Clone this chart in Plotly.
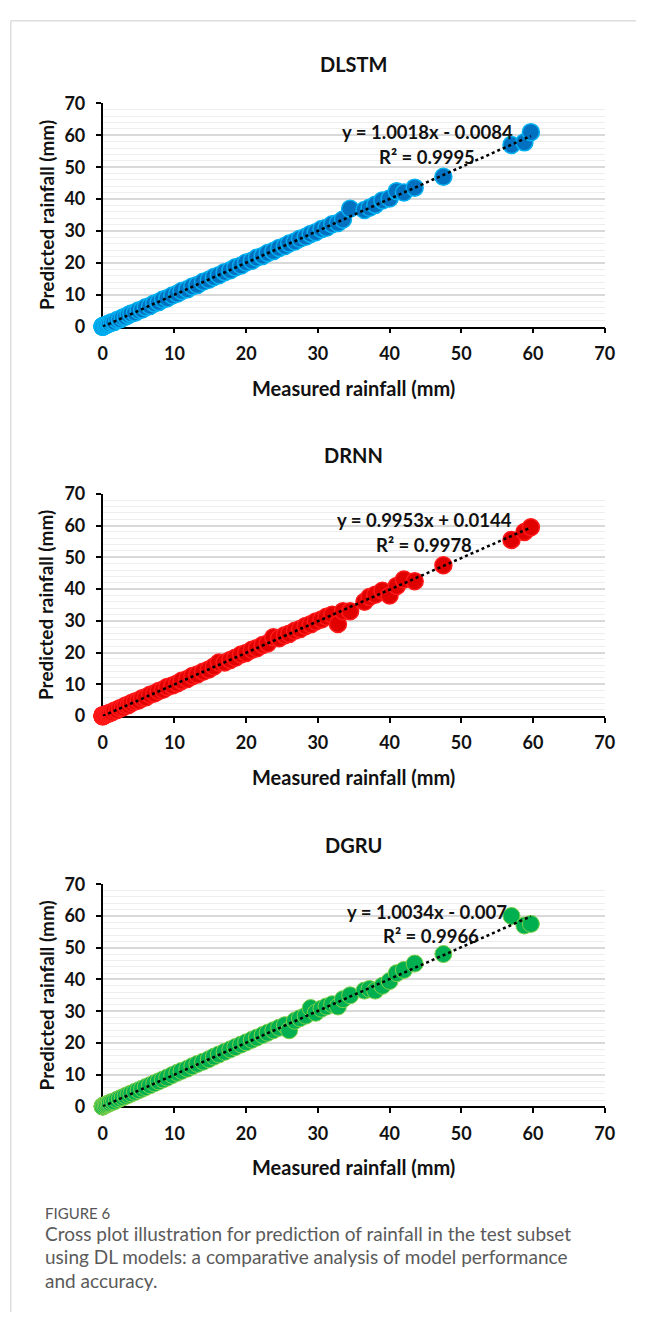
import plotly.graph_objects as go

# ---------------- data ----------------
models = ["DLSTM", "DRNN", "DGRU"]
measured = [
    0, 0, 0, 0, 0, 0, 0, 0.2, 0.4, 0.6,
    0.8, 1.0, 1.3, 1.6, 2.0, 2.4, 2.8, 3.2, 3.6, 4.0,
    4.5, 5.0, 5.5, 6.0, 6.6, 7.2, 7.8, 8.4, 9.0, 9.7,
    10.4, 11.0, 11.8, 12.5, 13.2, 14.0, 14.8, 15.5, 16.2, 17.0,
    17.8, 18.5, 19.3, 20.0, 20.8, 21.5, 22.3, 23.0, 23.8, 24.6,
    25.4, 26.0, 26.8, 27.5, 28.3, 29.0, 29.7, 30.5, 31.2, 32.0,
    32.8, 33.5, 34.5, 36.5, 37.2, 38.0, 39.0, 40.0, 41.0, 42.0,
    43.5, 47.5, 57.0, 58.8, 59.7,
]
pred_dlstm = [
    0, 0.1, 0, 0.2, 0, 0.1, 0, 0.3, 0.5, 0.6,
    0.9, 1.1, 1.4, 1.5, 2.1, 2.3, 2.9, 3.1, 3.7, 4.1,
    4.4, 5.1, 5.4, 6.1, 6.5, 7.3, 7.7, 8.5, 8.9, 9.8,
    10.3, 11.2, 11.7, 12.6, 13.1, 14.1, 14.7, 15.6, 16.1, 17.1,
    17.7, 18.6, 19.2, 20.1, 20.7, 21.6, 22.2, 23.1, 23.7, 24.7,
    25.3, 26.1, 26.7, 27.6, 28.2, 29.1, 29.6, 30.6, 31.0, 32.1,
    32.5, 33.6, 37.0, 36.6, 37.3, 38.2, 39.6, 40.2, 42.5, 42.1,
    43.6, 47.0, 57.0, 57.8, 61.0,
]
pred_drnn = [
    0, 0.2, 0, 0.1, 0, 0.3, 0, 0.2, 0.4, 0.7,
    0.8, 1.0, 1.2, 1.7, 1.9, 2.5, 2.7, 3.3, 3.5, 4.1,
    4.6, 4.9, 5.6, 5.9, 6.7, 7.1, 7.9, 8.3, 9.2, 9.6,
    10.3, 11.1, 11.7, 12.6, 13.1, 14.0, 14.7, 15.6, 16.9, 16.9,
    17.7, 18.4, 19.4, 19.9, 20.9, 21.4, 22.4, 22.9, 24.8, 24.5,
    25.5, 25.9, 26.9, 27.4, 28.4, 28.9, 29.8, 30.4, 31.3, 31.9,
    29.0, 33.0, 33.0, 36.0, 37.5, 38.2, 39.5, 38.0, 41.0, 43.0,
    42.5, 47.5, 55.5, 58.0, 59.5,
]
pred_dgru = [
    0, 0.1, 0, 0.2, 0, 0.1, 0, 0.3, 0.5, 0.7,
    0.9, 1.1, 1.4, 1.6, 2.1, 2.5, 2.9, 3.3, 3.7, 4.1,
    4.6, 5.1, 5.6, 6.1, 6.7, 7.3, 7.9, 8.5, 9.1, 9.9,
    10.6, 11.2, 11.9, 12.7, 13.4, 14.1, 14.9, 15.7, 16.4, 17.2,
    18.0, 18.7, 19.5, 20.2, 21.0, 21.7, 22.5, 23.2, 24.0, 24.8,
    25.6, 24.0, 27.0, 27.8, 28.6, 31.0, 29.5, 30.8, 31.5, 32.2,
    31.5, 33.8, 35.0, 36.5, 37.0, 36.5, 38.0, 39.5, 42.0, 43.0,
    45.0, 48.0, 60.0, 57.0, 57.5,
]
predictions = [pred_dlstm, pred_drnn, pred_dgru]
slopes = [1.0018, 0.9953, 1.0034]
intercepts = [-0.0084, 0.0144, -0.007]
eq_labels = ["y = 1.0018x - 0.0084", "y = 0.9953x + 0.0144", "y = 1.0034x - 0.007"]
r2_labels = ["R² = 0.9995", "R² = 0.9978", "R² = 0.9966"]
tick_vals = [0, 10, 20, 30, 40, 50, 60, 70]
x_title = "Measured rainfall (mm)"
y_title = "Predicted rainfall (mm)"
caption_head = "FIGURE 6"
caption_lines = [
    "Cross plot illustration for prediction of rainfall in the test subset",
    "using DL models: a comparative analysis of model performance",
    "and accuracy.",
]

# ---------------- styles ----------------
W, H = 646, 1322
fill_cols = ["#0070C0", "#E00000", "#00B050"]
edge_cols = ["#00B0F0", "#FF1A1A", "#7FD04A"]
edge_w = [1.5, 1.5, 1.0]
FONT = "Lato"

# pixel layout of each panel (top, bottom of plot area)
panel_px = [(93, 320), (490, 716), (887, 1113)]
x_px = (100, 614)
# equation / R² anchor positions (right edge px, centre y offset from panel top)
eq_pos = [(522, 29, 483, 54), (521, 27, 480, 52), (516, 28, 487, 53)]


def py(p):
    return 1 - p / H


def px(p):
    return p / W


fig = go.Figure()
annotations = []
layout_axes = {}

for i, name in enumerate(models):
    n = i + 1
    xa = "x" if n == 1 else f"x{n}"
    ya = "y" if n == 1 else f"y{n}"
    top, bot = panel_px[i]

    fig.add_trace(go.Scatter(
        x=measured, y=predictions[i], mode="markers", xaxis=xa, yaxis=ya,
        marker=dict(size=17, color=fill_cols[i],
                    line=dict(color=edge_cols[i], width=edge_w[i])),
        cliponaxis=False, showlegend=False, hoverinfo="skip",
    ))
    xmin, xmax = min(measured), max(measured)
    fig.add_trace(go.Scatter(
        x=[xmin, xmax],
        y=[slopes[i] * xmin + intercepts[i], slopes[i] * xmax + intercepts[i]],
        mode="lines", xaxis=xa, yaxis=ya,
        line=dict(color="black", width=2.5, dash="dot"),
        cliponaxis=False, showlegend=False, hoverinfo="skip",
    ))

    axis_common = dict(
        range=[0, 70], tickvals=tick_vals, showline=True, linecolor="#000000",
        linewidth=1.5, ticks="outside", ticklen=5, tickwidth=1.5,
        tickcolor="#000000", zeroline=False, fixedrange=True,
        tickfont=dict(family=FONT, size=18, color="#111111", weight="bold"),
        layer="below traces",
    )
    layout_axes["xaxis" if n == 1 else f"xaxis{n}"] = dict(
        axis_common, domain=[px(x_px[0]), px(x_px[1])], anchor=ya,
        showgrid=False, ticklabelstandoff=5,
    )
    layout_axes["yaxis" if n == 1 else f"yaxis{n}"] = dict(
        axis_common, domain=[py(bot), py(top)], anchor=xa,
        showgrid=True, gridcolor="#d9d9d9", gridwidth=1.5,
        minor=dict(dtick=2, showgrid=True, gridcolor="#eeeeee", gridwidth=1),
        ticklabelstandoff=7,
    )

    cx = (x_px[0] + x_px[1]) / 2
    annotations.append(dict(text=f"<b>{name}</b>", x=px(cx), y=py(top - 40),
                            xref="paper", yref="paper", showarrow=False,
                            font=dict(family=FONT, size=20, color="#111111"),
                            xanchor="center", yanchor="middle"))
    annotations.append(dict(text=f"<b>{x_title}</b>", x=px(cx), y=py(bot + 62),
                            xref="paper", yref="paper", showarrow=False,
                            font=dict(family=FONT, size=20, color="#111111"),
                            xanchor="center", yanchor="middle"))
    annotations.append(dict(text=f"<b>{y_title}</b>", x=px(42), y=py((top + bot) / 2),
                            xref="paper", yref="paper", showarrow=False, textangle=-90,
                            font=dict(family=FONT, size=19, color="#111111"),
                            xanchor="center", yanchor="middle"))
    ex, ey, rx, ry = eq_pos[i]
    annotations.append(dict(text=f"<b>{eq_labels[i]}</b>", x=px(ex), y=py(top + ey),
                            xref="paper", yref="paper", showarrow=False,
                            font=dict(family=FONT, size=18.5, color="#111111"),
                            xanchor="right", yanchor="middle"))
    annotations.append(dict(text=f"<b>{r2_labels[i]}</b>", x=px(rx), y=py(top + ry),
                            xref="paper", yref="paper", showarrow=False,
                            font=dict(family=FONT, size=18.5, color="#111111"),
                            xanchor="right", yanchor="middle"))

annotations.append(dict(text=caption_head, x=px(39), y=py(1221), xref="paper", yref="paper",
                        showarrow=False, xanchor="left", yanchor="middle",
                        font=dict(family=FONT, size=15, color="#555555")))
for j, line in enumerate(caption_lines):
    annotations.append(dict(text=line, x=px(39), y=py(1242 + j * 24), xref="paper",
                            yref="paper", showarrow=False, xanchor="left", yanchor="middle",
                            font=dict(family=FONT, size=19, color="#5a5a5a")))

shapes = [
    dict(type="line", xref="paper", yref="paper", x0=px(6), x1=1, y0=py(9), y1=py(9),
         line=dict(color="#cccccc", width=1)),
    dict(type="line", xref="paper", yref="paper", x0=px(6), x1=px(6), y0=py(9), y1=0,
         line=dict(color="#cccccc", width=1)),
]

fig.update_layout(
    width=W, height=H, margin=dict(l=0, r=0, t=0, b=0),
    paper_bgcolor="white", plot_bgcolor="white",
    annotations=annotations, shapes=shapes, showlegend=False,
    **layout_axes,
)
fig.write_html("out.html", config={"displayModeBar": False})
